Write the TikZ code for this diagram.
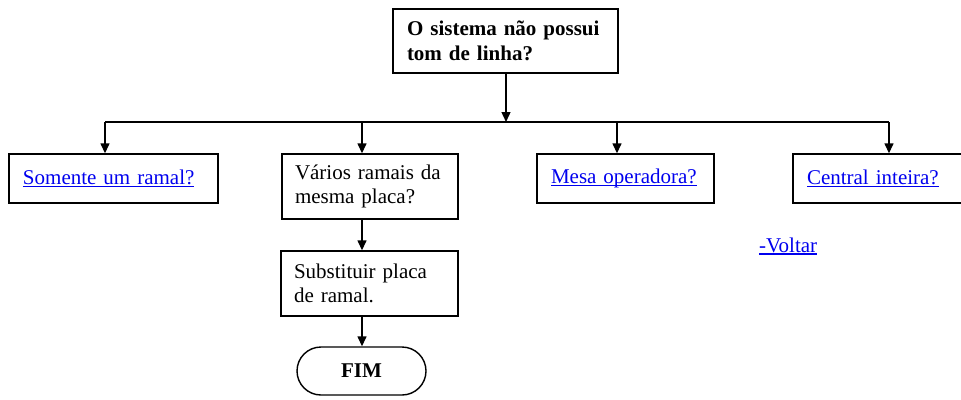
\documentclass[tikz,border=0pt]{standalone}
\usepackage{fontspec}
\setmainfont{Liberation Serif}
\usetikzlibrary{arrows.meta}
\definecolor{linkblue}{RGB}{0,0,238}
\newcommand\lnk[1]{{\color{linkblue}\setbox0\hbox{#1}\rlap{\rule[-2.6pt]{\wd0}{1.3pt}}\box0}}
\tikzset{
  box/.style={draw, line width=1.4pt, rectangle, inner xsep=14pt, inner ysep=0pt,
    align=left, font=\fontsize{21}{24.5}\selectfont},
  term/.style={draw, line width=1.4pt, rectangle, rounded corners=24pt, inner sep=0pt,
    font=\fontsize{21}{24.5}\selectfont\bfseries},
  conn/.style={line width=1.4pt},
  arr/.style={line width=1.4pt, -{Triangle[length=10pt,width=9pt]}},
}
\begin{document}
\begin{tikzpicture}[x=1pt,y=-1pt]
\useasboundingbox (0,0) rectangle (961,399);
\node[box, text width=197pt, minimum width=225pt, minimum height=64pt, font=\fontsize{21}{24.5}\selectfont\bfseries] (top) at (505.5,41) {O sistema não possui\\tom de linha?};
\node[box, text width=181pt, minimum width=209pt, minimum height=49pt] (b1) at (113.5,178.5) {\lnk{Somente um ramal?}};
\node[box, inner xsep=13pt, text width=150pt, minimum width=176pt, minimum height=65pt] (b2) at (370,186.5) {Vários ramais da\\mesma placa?};
\node[box, text width=149pt, minimum width=177pt, minimum height=49pt] (b3) at (625.5,178.5) {\lnk{Mesa operadora?}};
\node[box, text width=172pt, minimum width=200pt, minimum height=49pt] (b4) at (893,178.5) {\lnk{Central inteira?}};
\node[box, inner xsep=13pt, text width=151pt, minimum width=177pt, minimum height=65pt] (b5) at (369.5,283.5) {Substituir placa\\de ramal.};
\node[term, minimum width=129pt, minimum height=48pt] (fim) at (361.5,371) {FIM};
\node[anchor=base west, inner sep=0pt, font=\fontsize{21}{24.5}\selectfont] (volt) at (759,252) {\lnk{-Voltar}};
\coordinate (jt) at (506,122);
\coordinate (j1) at (105,122);
\coordinate (j2) at (362,122);
\coordinate (j3) at (617,122);
\coordinate (j4) at (889,122);
\draw[conn] (j1) -- (j4);
\draw[arr] (top.south -| jt) -- (jt);
\draw[arr] (j1) -- (j1 |- b1.north);
\draw[arr] (j2) -- (j2 |- b2.north);
\draw[arr] (j3) -- (j3 |- b3.north);
\draw[arr] (j4) -- (j4 |- b4.north);
\draw[arr] (j2 |- b2.south) -- (j2 |- b5.north);
\draw[arr] (j2 |- b5.south) -- (j2 |- fim.north);
\end{tikzpicture}
\end{document}
